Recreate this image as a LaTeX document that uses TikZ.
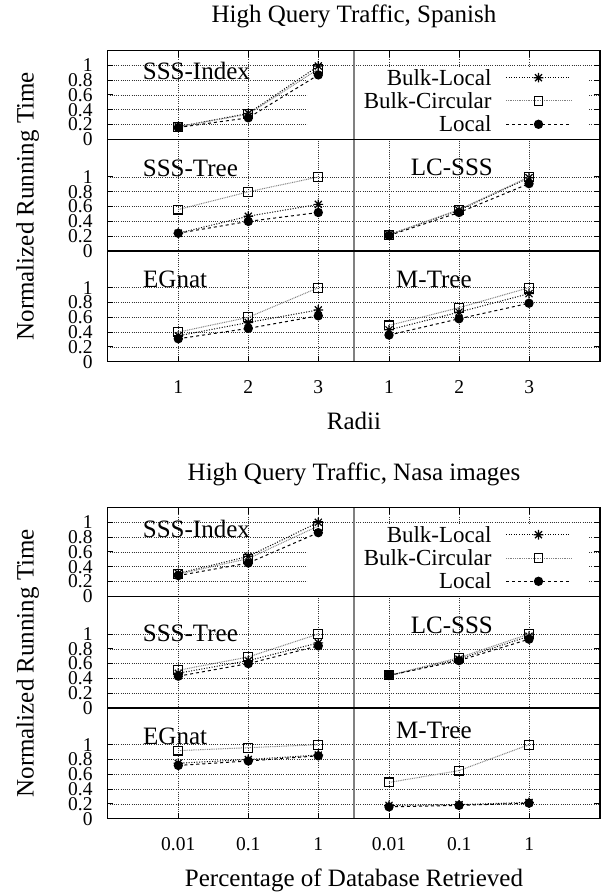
\documentclass[tikz,border=0pt]{standalone}
\usepackage{fontspec}
\setmainfont{Liberation Serif}
\tikzset{
  gridl/.style={black!80, line width=0.6pt, dash pattern=on 0.7pt off 1.5pt},
  framel/.style={black, line width=1.1pt},
  midl/.style={black!50, line width=1.1pt},
  tickl/.style={black, line width=1pt},
  bl/.style={black, line width=1pt, dash pattern=on 1pt off 1.6pt},
  bc/.style={black!50, line width=1pt, dash pattern=on 0.9pt off 0.9pt},
  lo/.style={black, line width=1pt, dash pattern=on 3pt off 3pt},
  ticklab/.style={font=\fontsize{19.5}{20}\selectfont, inner sep=0pt},
  panlab/.style={font=\fontsize{25}{26}\selectfont, inner sep=0pt, anchor=base west},
  leglab/.style={font=\fontsize{23}{24}\selectfont, inner sep=0pt, anchor=base east},
  biglab/.style={font=\fontsize{25}{26}\selectfont, inner sep=0pt, anchor=base},
  starmk/.pic={\draw[black, line width=1.2pt, solid] (-4.8pt,0)--(4.8pt,0) (0,-4.8pt)--(0,4.8pt) (-3.5pt,-3.5pt)--(3.5pt,3.5pt) (-3.5pt,3.5pt)--(3.5pt,-3.5pt);},
  sqmk/.pic={\draw[black, line width=1.1pt, solid] (-4.4pt,-4.4pt) rectangle (4.4pt,4.4pt);},
  dotmk/.pic={\fill[black] (0,0) circle (4.7pt);}
}
% series: style, marker, three values
\newcommand\ser[5]{%
  \draw[#1] (1,#3) -- (2,#4) -- (3,#5);
  \foreach \xx/\vv in {1/#3,2/#4,3/#5} \pic at (\xx,\vv) {#2};
}
% panel data: #1 x-origin, #2 row zero, then 9 values BL BC LO
\newcommand\pdata[2]{%
  \begin{scope}[shift={(#1,#2)}, x=70pt, y=74pt]\pdatab}
\newcommand\pdatab[9]{%
  \ser{bl}{starmk}{#1}{#2}{#3}
  \ser{bc}{sqmk}{#4}{#5}{#6}
  \ser{lo}{dotmk}{#7}{#8}{#9}
  \end{scope}}
% shared frame: #1 prefix, #2 title, #3 xlabel, #4 #5 #6 x tick texts
\newcommand\figframe[6]{%
  % grid
  \foreach \r in {139.3,251,361.7}{
    \foreach \v in {0.2,0.4,0.6,0.8,1.0}{
      \draw[gridl] (107.3,{\r-74*\v}) -- (600,{\r-74*\v});
    }}
  \foreach \xg in {178.3,248.3,318.3,389,459.3,529.3}{
    \draw[gridl] (\xg,50.7) -- (\xg,361.7);
  }
  % legend box
  \fill[white] (308,67) rectangle (588,138.6);
  % frame
  \draw[midl] (354,50.7) -- (354,361.7);
  \draw[framel] (107.3,50.7) rectangle (600,361.7);
  \draw[framel] (107.3,139.3) -- (600,139.3);
  \draw[framel] (107.3,251) -- (600,251);
  % ticks
  \foreach \r in {139.3,251,361.7}{
    \foreach \v in {0.2,0.4,0.6,0.8,1.0}{
      \draw[tickl] (107.3,{\r-74*\v}) -- (113.3,{\r-74*\v});
      \draw[tickl] (594,{\r-74*\v}) -- (600,{\r-74*\v});
    }}
  \foreach \xg in {178.3,248.3,318.3,389,459.3,529.3}{
    \draw[tickl] (\xg,361.7) -- (\xg,355.7);
    \draw[tickl] (\xg,50.7) -- (\xg,56.7);
  }
  % y tick labels
  \foreach \r [count=\j] in {139.3,251,361.7}{
    \foreach \v/\t [count=\i] in {0/0,0.2/0.2,0.4/0.4,0.6/0.6,0.8/0.8,1/1}{
      \node[ticklab, anchor=east] (#1yt\j\i) at (92.7,{\r-74*\v}) {\t};
    }}
  % x tick labels
  \node[ticklab] (#1xa) at (178.3,386.7) {#4};
  \node[ticklab] (#1xb) at (248.3,386.7) {#5};
  \node[ticklab] (#1xc) at (318.3,386.7) {#6};
  \node[ticklab] (#1xd) at (389,386.7) {#4};
  \node[ticklab] (#1xe) at (459.3,386.7) {#5};
  \node[ticklab] (#1xf) at (529.3,386.7) {#6};
  % titles and axis labels
  \node[biglab] (#1title) at (354,23) {#2};
  \node[biglab] (#1xlab) at (354,429) {#3};
  \node[biglab, rotate=90] (#1ylab) at (33.5,206.2) {Normalized Running Time};
  % legend
  \node[leglab] (#1lg1) at (491.7,85.3) {Bulk-Local};
  \node[leglab] (#1lg2) at (491.7,108.6) {Bulk-Circular};
  \node[leglab] (#1lg3) at (491.7,131.9) {Local};
  \coordinate (#1s1a) at (506,77.7);  \coordinate (#1s1b) at (571,77.7);
  \coordinate (#1s2a) at (506,101);   \coordinate (#1s2b) at (571,101);
  \coordinate (#1s3a) at (506,124.3); \coordinate (#1s3b) at (571,124.3);
  \draw[bl] (#1s1a) -- (#1s1b);
  \draw[bc] (#1s2a) -- (#1s2b);
  \draw[lo] (#1s3a) -- (#1s3b);
  \pic at (538.5,77.7) {starmk};
  \pic at (538.5,101) {sqmk};
  \pic at (538.5,124.3) {dotmk};
}
\begin{document}
\begin{tikzpicture}[x=1pt,y=-1pt]
\useasboundingbox (0,0) rectangle (609,893);
\fill[white] (0,0) rectangle (609,893);
% ---------------- Figure 1 ----------------
\begin{scope}
\figframe{a}{High Query Traffic, Spanish}{Radii}{1}{2}{3}
\node[panlab] (aSI) at (142.7,80) {SSS-Index};
\node[panlab] (aST) at (142.7,176.5) {SSS-Tree};
\node[panlab] (aLC) at (410.7,175.7) {LC-SSS};
\node[panlab] (aEG) at (143,287.7) {EGnat};
\node[panlab] (aMT) at (396,287.7) {M-Tree};
\pdata{108.3}{139.3}{0.17}{0.35}{0.99}{0.17}{0.34}{0.95}{0.16}{0.29}{0.87}
\pdata{108.3}{251}{0.24}{0.47}{0.63}{0.56}{0.80}{1.0}{0.24}{0.40}{0.52}
\pdata{319}{251}{0.22}{0.55}{0.99}{0.22}{0.56}{1.0}{0.21}{0.52}{0.91}
\pdata{108.3}{361.7}{0.35}{0.53}{0.70}{0.40}{0.60}{1.0}{0.31}{0.45}{0.62}
\pdata{319}{361.7}{0.43}{0.67}{0.92}{0.49}{0.73}{1.0}{0.36}{0.58}{0.79}
\end{scope}
% ---------------- Figure 2 ----------------
\begin{scope}[yshift=-457pt]
\figframe{b}{High Query Traffic, Nasa images}{Percentage of Database Retrieved}{0.01}{0.1}{1}
\node[panlab] (bSI) at (142.7,80.5) {SSS-Index};
\node[panlab] (bST) at (142.7,184.7) {SSS-Tree};
\node[panlab] (bLC) at (410.7,176.5) {LC-SSS};
\node[panlab] (bEG) at (143,287) {EGnat};
\node[panlab] (bMT) at (396,281.5) {M-Tree};
\pdata{108.3}{139.3}{0.31}{0.54}{1.0}{0.30}{0.51}{0.95}{0.28}{0.45}{0.86}
\pdata{108.3}{251}{0.47}{0.64}{0.88}{0.51}{0.69}{1.0}{0.43}{0.60}{0.84}
\pdata{319}{251}{0.44}{0.66}{0.97}{0.44}{0.68}{1.0}{0.44}{0.64}{0.93}
\pdata{108.3}{361.7}{0.75}{0.80}{0.86}{0.92}{0.96}{1.0}{0.72}{0.78}{0.85}
\pdata{319}{361.7}{0.18}{0.19}{0.22}{0.49}{0.65}{1.0}{0.16}{0.18}{0.21}
\end{scope}
\end{tikzpicture}
\end{document}
